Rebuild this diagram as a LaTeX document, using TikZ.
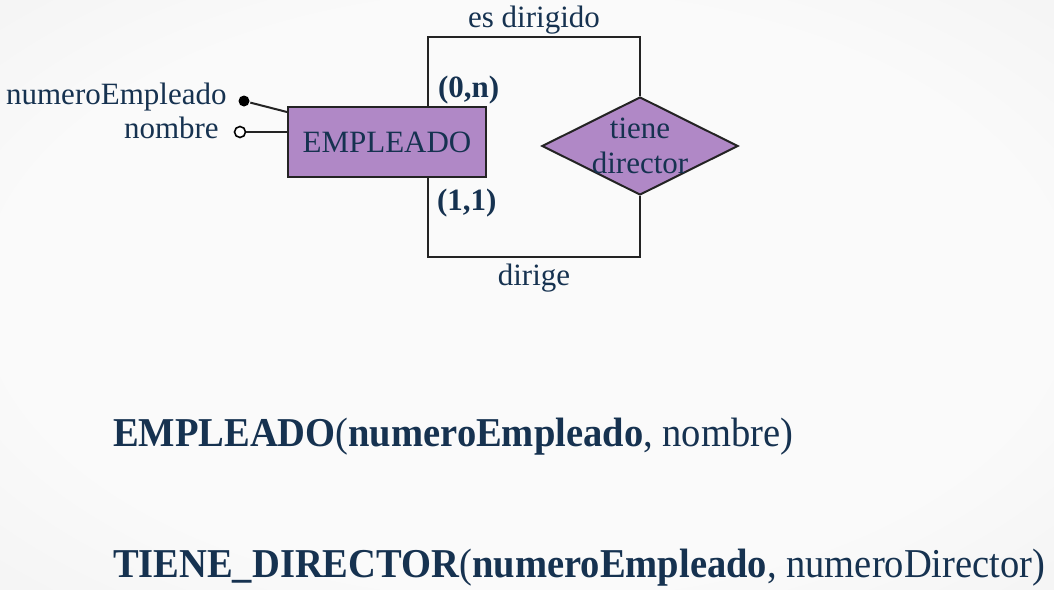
\documentclass[tikz,border=0pt]{standalone}
\usepackage{fontspec}
\setmainfont{Liberation Serif}
\newfontfamily\relfont[FakeStretch=0.94]{Liberation Serif}
\usetikzlibrary{shapes.geometric, positioning}

\definecolor{erpurple}{RGB}{176,136,198}
\definecolor{ertext}{RGB}{22,50,80}
\definecolor{erline}{RGB}{35,35,35}
\definecolor{bgwhite}{RGB}{250,250,250}
\definecolor{bggray}{RGB}{226,226,226}
\pgfdeclareradialshading{bgshade}{\pgfpoint{0bp}{0bp}}%
  {color(0bp)=(bgwhite); color(25bp)=(bgwhite); color(71bp)=(bggray)}

\tikzset{
  entity/.style={draw=erline, fill=erpurple, minimum width=198pt, minimum height=70pt,
                 font=\fontsize{31}{35}\selectfont, text=ertext},
  relation/.style={diamond, draw=erline, fill=erpurple, aspect=2, inner sep=-2pt,
                   align=center, font=\fontsize{31}{35}\selectfont, text=ertext},
  attr/.style={font=\fontsize{31}{35}\selectfont, text=ertext, inner sep=1pt},
  card/.style={font=\fontsize{31}{35}\selectfont\bfseries, text=ertext, inner sep=1pt},
  keydot/.style={circle, fill=black, minimum size=11pt, inner sep=0pt},
  optdot/.style={circle, draw=black, fill=white, minimum size=11pt, inner sep=0pt, line width=1.6pt},
  schema/.style={font=\relfont\fontsize{41}{46}\selectfont, text=ertext, anchor=base west, inner sep=0pt}
}

\begin{document}
\begin{tikzpicture}[x=1pt, y=-1pt, line width=2pt]
  \shade[shading=bgshade] (0,0) rectangle (1054,589);
  \useasboundingbox (0,0) rectangle (1054,589);

  \node[entity]   (emp) at (387,142) {EMPLEADO};
  \node[relation] (dir) at (640,146) {tiene\\director};
  \path (428,37)  coordinate (top)
        (428,257) coordinate (bot);

  % recursive relationship
  \draw[erline] (emp.north -| top) -- (top)
      -- node[attr, above=1pt] {es dirigido} (top -| dir.north) -- (dir.north);
  \draw[erline] (dir.south) -- (dir.south |- bot)
      -- node[attr, below=5pt] {dirige} (bot) -- (emp.south -| bot);

  \node[card, anchor=south west] (cmax) at ([xshift=8pt]emp.north -| top) {(0,n)};
  \node[card, anchor=north west] (cmin) at ([xshift=7pt,yshift=-9pt]emp.south -| bot) {(1,1)};

  % attributes
  \node[keydot] (knum) at (244,101) {};
  \node[optdot] (knom) at (240,132) {};
  \node[attr, left=9pt of knum, yshift=4pt] (lnum) {numeroEmpleado};
  \node[attr, left=13pt of knom, yshift=4pt] (lnom) {nombre};
  \draw[erline] (knum) -- ([yshift=-6pt]emp.north west);
  \draw[erline] (knom) -- (knom -| emp.west);

  % relational schema
  \node[schema] (remp) at (112,446)
      {\textbf{EMPLEADO}(\textbf{numeroEmpleado}, nombre)};
  \node[schema] (rdir) at (112,577)
      {\textbf{TIENE\_DIRECTOR}(\textbf{numeroEmpleado}, numeroDirector)};
\end{tikzpicture}
\end{document}
